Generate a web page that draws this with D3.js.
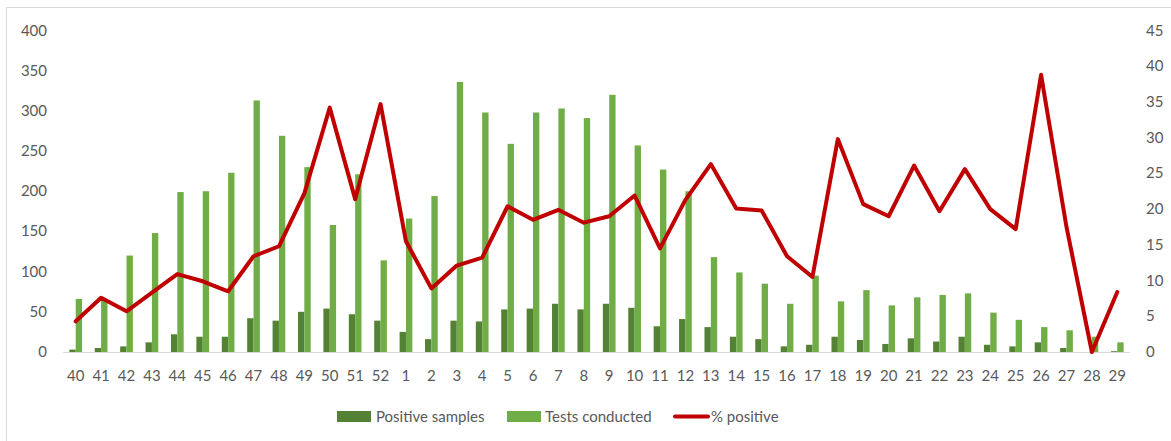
<!DOCTYPE html>
<html>
<head>
<meta charset="utf-8">
<script src="https://cdn.jsdelivr.net/npm/d3@7"></script>
<style>
  body { margin: 0; background: #fff; }
  text { font-family: Lato, "Open Sans", sans-serif; fill: #595959; }
</style>
</head>
<body>
<svg id="chart" width="1171" height="441"></svg>
<script>
// week numbers
const weeks = ["40","41","42","43","44","45","46","47","48","49","50","51","52",
  "1","2","3","4","5","6","7","8","9","10","11","12","13","14","15",
  "16","17","18","19","20","21","22","23","24","25","26","27","28","29"];

const positiveSamples = [3,5,7,12,22,19,19,42,39,50,54,47,39,
  25,16,39,38,53,54,60,53,60,55,32,41,31,19,16,
  7,9,19,15,10,17,13,19,9,7,12,5,0,1];

const testsConducted = [66,65,120,148,199,200,223,313,269,230,158,221,114,
  166,194,336,298,259,298,303,291,320,257,227,200,118,99,85,
  60,95,63,77,58,68,71,73,49,40,31,27,19,12];

const pctPositive = [4.3,7.6,5.7,8.3,10.9,9.9,8.5,13.4,14.8,22.2,34.2,21.4,34.7,
  15.5,8.9,12.1,13.2,20.4,18.5,19.9,18.1,19.0,21.9,14.5,21.3,26.3,20.1,19.8,
  13.4,10.5,29.8,20.7,19.0,26.1,19.7,25.6,20.0,17.2,38.8,17.5,0,8.4];

const leftTicks = [0,50,100,150,200,250,300,350,400];
const rightTicks = [0,5,10,15,20,25,30,35,40,45];

const svg = d3.select("#chart");

// chart frame
svg.append("rect")
  .attr("x", 6.5).attr("y", 7.5)
  .attr("width", 1200).attr("height", 500)
  .attr("fill", "none")
  .attr("stroke", "#d9d9d9");

const plotLeft = 63, plotRight = 1130, plotTop = 30.5, plotBottom = 352;

const x = d3.scaleBand().domain(weeks).range([plotLeft, plotRight]).padding(0);
const yL = d3.scaleLinear().domain([0, 400]).range([plotBottom, plotTop]);
const yR = d3.scaleLinear().domain([0, 45]).range([plotBottom, plotTop]);

const barW = x.bandwidth() * 0.25;

// left axis labels
svg.append("g")
  .selectAll("text")
  .data(leftTicks)
  .enter()
  .append("text")
  .attr("x", 47)
  .attr("y", (d) => yL(d) + 5)
  .attr("text-anchor", "end")
  .attr("font-size", 15)
  .text((d) => d);

// right axis labels
svg.append("g")
  .selectAll("text")
  .data(rightTicks)
  .enter()
  .append("text")
  .attr("x", 1146)
  .attr("y", (d) => yR(d) + 5)
  .attr("text-anchor", "start")
  .attr("font-size", 15)
  .text((d) => d);

// bars
svg.append("g")
  .selectAll("rect")
  .data(positiveSamples)
  .enter()
  .append("rect")
  .attr("x", (d, i) => x(weeks[i]) + x.bandwidth() / 2 - barW)
  .attr("y", (d) => yL(d))
  .attr("width", barW)
  .attr("height", (d) => plotBottom - yL(d))
  .attr("fill", "#548235");

svg.append("g")
  .selectAll("rect")
  .data(testsConducted)
  .enter()
  .append("rect")
  .attr("x", (d, i) => x(weeks[i]) + x.bandwidth() / 2)
  .attr("y", (d) => yL(d))
  .attr("width", barW)
  .attr("height", (d) => plotBottom - yL(d))
  .attr("fill", "#70ad47");

// x axis line
svg.append("line")
  .attr("x1", plotLeft).attr("x2", plotRight)
  .attr("y1", plotBottom + 0.5).attr("y2", plotBottom + 0.5)
  .attr("stroke", "#d9d9d9");

// x labels
svg.append("g")
  .selectAll("text")
  .data(weeks)
  .enter()
  .append("text")
  .attr("x", (d) => x(d) + x.bandwidth() / 2)
  .attr("y", 381)
  .attr("text-anchor", "middle")
  .attr("font-size", 15)
  .text((d) => d);

// % positive line
const line = d3.line()
  .x((d, i) => x(weeks[i]) + x.bandwidth() / 2)
  .y((d) => yR(d));

svg.append("path")
  .datum(pctPositive)
  .attr("d", line)
  .attr("fill", "none")
  .attr("stroke", "#c00000")
  .attr("stroke-width", 4)
  .attr("stroke-linejoin", "round")
  .attr("stroke-linecap", "round");

// legend
const legend = svg.append("g");
legend.append("rect").attr("x", 337).attr("y", 411).attr("width", 34).attr("height", 11).attr("fill", "#548235");
legend.append("text").attr("x", 376).attr("y", 422).attr("font-size", 15).text("Positive samples");
legend.append("rect").attr("x", 507).attr("y", 411).attr("width", 34).attr("height", 11).attr("fill", "#70ad47");
legend.append("text").attr("x", 545).attr("y", 422).attr("font-size", 15).text("Tests conducted");
legend.append("line").attr("x1", 675).attr("x2", 708).attr("y1", 416.5).attr("y2", 416.5)
  .attr("stroke", "#c00000").attr("stroke-width", 4).attr("stroke-linecap", "round");
legend.append("text").attr("x", 711).attr("y", 422).attr("font-size", 15).text("% positive");
</script>
</body>
</html>
